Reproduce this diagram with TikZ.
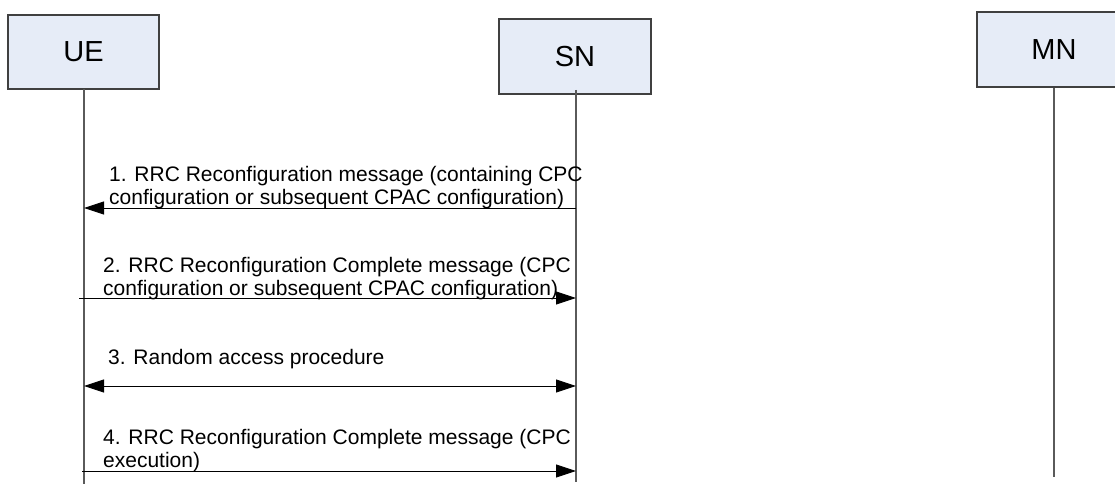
\documentclass[tikz,border=0pt]{standalone}
\usepackage{fontspec}
\setmainfont{Liberation Sans}
\usetikzlibrary{arrows.meta}
\definecolor{boxfill}{HTML}{E6ECF7}
\definecolor{boxline}{HTML}{404040}
\definecolor{lifegray}{HTML}{5A5A5A}
\begin{document}
\begin{tikzpicture}[x=1pt,y=-1pt,
  entity/.style={draw=boxline, line width=1.2pt, fill=boxfill, minimum width=151pt, minimum height=74pt, inner sep=0pt, font=\fontsize{29}{32}\selectfont},
  life/.style={draw=lifegray, line width=1.3pt},
  msg/.style={draw=black, line width=0.9pt},
  tipR/.style={-{Triangle[length=20pt,width=13pt]}},
  tipB/.style={{Triangle[length=20pt,width=13pt]}-{Triangle[length=20pt,width=13pt]}},
  lbl/.style={anchor=base west, inner sep=0pt, font=\fontsize{21}{23}\selectfont}
]
\useasboundingbox (0,0) rectangle (1115,484);
\clip (0,0) rectangle (1115,484);
\fill[white] (0,0) rectangle (1115,484);

% entities
\node[entity] (ue) at (83.5,52) {UE};
\node[entity, minimum width=152pt, minimum height=75pt] (sn) at (575,56.5) {SN};
\node[entity, minimum width=154pt, minimum height=75pt] (mn) at (1054,49.5) {MN};

% lifelines
\coordinate (ueTop) at (84,89);
\coordinate (ueBot) at (84,484);
\coordinate (snTop) at (576,90);
\coordinate (snBot) at (576,482);
\coordinate (mnTop) at (1054,88);
\coordinate (mnBot) at (1054,477);
\draw[life] (ueTop) -- (ueBot);
\draw[life] (snTop) -- (snBot);
\draw[life] (mnTop) -- (mnBot);

% message end points
\coordinate (u1) at (84,208);  \coordinate (s1) at (576,208);
\coordinate (u2) at (79,298);  \coordinate (s2) at (576,298);
\coordinate (u3) at (84,386);  \coordinate (s3) at (576,386);
\coordinate (u4) at (82,471);  \coordinate (s4) at (576,471);

% messages
\draw[msg,tipR] (s1) -- (u1);
\draw[msg,tipR] (u2) -- (s2);
\draw[msg,tipB] (u3) -- (s3);
\draw[msg,tipR] (u4) -- (s4);

% labels
\node[lbl] (l1a) at (109,181) {1. RRC Reconfiguration message (containing CPC};
\node[lbl] (l1b) at (109,204) {configuration or subsequent CPAC configuration)};
\node[lbl] (l2a) at (103,272) {2. RRC Reconfiguration Complete message (CPC};
\node[lbl] (l2b) at (103,295) {configuration or subsequent CPAC configuration)};
\node[lbl] (l3) at (108,364) {3. Random access procedure};
\node[lbl] (l4a) at (103,444) {4. RRC Reconfiguration Complete message (CPC};
\node[lbl] (l4b) at (103,467) {execution)};
\end{tikzpicture}
\end{document}
